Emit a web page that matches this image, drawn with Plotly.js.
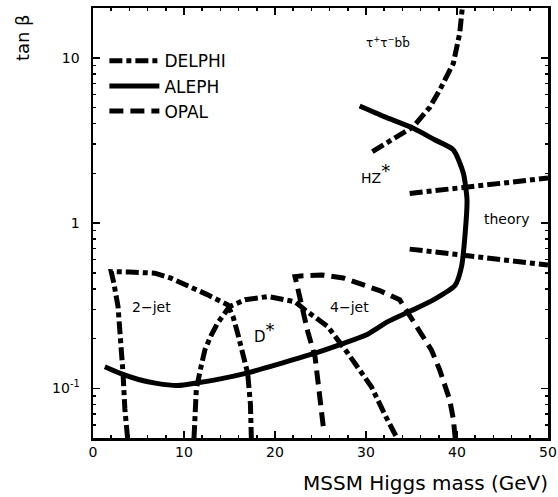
<!DOCTYPE html>
<html>
<head>
<meta charset="utf-8">
<script src="https://cdn.plot.ly/plotly-3.0.1.min.js"></script>
<style>html,body{margin:0;padding:0;background:#fff;}#chart{width:558px;height:497px;}</style>
</head>
<body>
<div id="chart"></div>
<script>
// ---- data (x: MSSM Higgs mass in GeV, y: tan beta) ----
const alephX = [1.3, 3, 5, 7, 9.3, 11.5, 14, 17, 20, 24.4, 27.3, 30, 32.4, 35, 37.5, 39.8, 40.5, 40.9, 41.1, 40.7, 39.6, 37.5, 35.2, 32, 29.3];
const alephY = [0.135, 0.123, 0.113, 0.107, 0.104, 0.108, 0.114, 0.124, 0.138, 0.163, 0.185, 0.21, 0.253, 0.295, 0.345, 0.42, 0.545, 0.87, 1.38, 2.0, 2.77, 3.2, 3.74, 4.4, 5.1];

const delphi2jetX = [3.8, 3.5, 3.3, 3.0, 2.75, 2.3, 2.0, 4, 6.8, 8.5, 10.4, 12.5, 14.8, 15.4, 15.9, 16.5, 17.0, 17.3, 17.4];
const delphi2jetY = [0.05, 0.075, 0.123, 0.2, 0.312, 0.43, 0.508, 0.505, 0.497, 0.465, 0.42, 0.37, 0.32, 0.27, 0.215, 0.16, 0.123, 0.08, 0.05];

const delphiDstarX = [11.1, 11.2, 11.35, 11.8, 12.3, 13.0, 13.7, 15.0, 16.7, 19.2, 22.2, 23.3, 25.8, 28.0, 30.6, 32.2, 33.4];
const delphiDstarY = [0.05, 0.07, 0.098, 0.13, 0.171, 0.21, 0.248, 0.312, 0.343, 0.359, 0.334, 0.298, 0.236, 0.163, 0.102, 0.067, 0.05];

const delphiTauX = [30.7, 33, 35.2, 37, 38.1, 39.6, 40.3, 40.6];
const delphiTauY = [2.7, 3.2, 3.83, 5.0, 6.38, 9.25, 14.1, 20.5];

const theoryUpX = [34.8, 50];
const theoryUpY = [1.51, 1.87];
const theoryLoX = [34.8, 50];
const theoryLoY = [0.695, 0.557];

const opalX = [25.3, 24.9, 24.4, 23.6, 22.9, 22.2, 23.1, 25.1, 27.5, 29.3, 31.5, 33.7, 35.9, 37.2, 38.1, 39.2, 39.6, 39.8];
const opalY = [0.059, 0.09, 0.155, 0.22, 0.312, 0.474, 0.48, 0.485, 0.465, 0.432, 0.39, 0.343, 0.225, 0.17, 0.129, 0.085, 0.065, 0.05];

const labelTexts = ["τ<sup>+</sup>τ<sup>−</sup>bb̄", "HZ<sup><span style=\"font-size:18px\">*</span></sup>", "theory", "2−jet", "D<sup><span style=\"font-size:18px\">*</span></sup>", "4−jet"];
const labelX = [32.4, 31.0, 45.5, 6.4, 18.9, 28.2];
const labelY = [12.4, 2.0, 1.06, 0.31, 0.216, 0.31];

const xTicks = [0, 10, 20, 30, 40, 50];
const yTicks = [0.1, 1, 10];
const yTickText = ["10<sup>-1</sup>", "1", "10"];
const yMinor = [0.05,0.06,0.07,0.08,0.09,0.2,0.3,0.4,0.5,0.6,0.7,0.8,0.9,2,3,4,5,6,7,8,9,20];

// ---- styles (kept apart from the data) ----
const labelSizes = [12, 14, 14, 14, 15, 14];

// ---- build traces ----
function joinCurves(list) {
  const x = [], y = [];
  list.forEach((c, i) => {
    if (i > 0) { x.push(null); y.push(null); }
    x.push(...c[0]); y.push(...c[1]);
  });
  return {x, y};
}
const delphi = joinCurves([[delphi2jetX, delphi2jetY],[delphiDstarX, delphiDstarY],[delphiTauX, delphiTauY],[theoryUpX, theoryUpY],[theoryLoX, theoryLoY]]);

const font = "DejaVu Sans, sans-serif";
const traces = [
  {x: delphi.x, y: delphi.y, name: "DELPHI", mode: "lines", connectgaps: false,
   line: {color: "#000", width: 5, dash: "13px,4px,5px,4px"}},
  {x: alephX, y: alephY, name: "ALEPH", mode: "lines", line: {color: "#000", width: 5, shape: "spline", smoothing: 0.6}},
  {x: opalX, y: opalY, name: "OPAL", mode: "lines", line: {color: "#000", width: 5, dash: "14px,7px"}}
];

const annotations = labelTexts.map((t, i) => ({
  x: labelX[i], y: Math.log10(labelY[i]), xref: "x", yref: "y", text: t, showarrow: false,
  font: {family: font, size: labelSizes[i], color: "#000"}
}));
annotations.push({x: 1.005, y: -0.105, xref: "paper", yref: "paper", xanchor: "right", yanchor: "middle",
  text: "MSSM Higgs mass (GeV)", showarrow: false, font: {family: font, size: 20, color: "#000"}});
annotations.push({x: -0.156, y: 0.93, xref: "paper", yref: "paper", xanchor: "center", yanchor: "middle",
  text: "tan β", textangle: -90, showarrow: false, font: {family: font, size: 18, color: "#000"}});

const layout = {
  width: 558, height: 497,
  margin: {l: 93, r: 10, t: 8, b: 59},
  paper_bgcolor: "#fff", plot_bgcolor: "#fff",
  showlegend: true,
  legend: {x: 0.025, y: 0.918, xanchor: "left", yanchor: "top", bgcolor: "rgba(0,0,0,0)",
    itemwidth: 50, font: {family: font, size: 17, color: "#000"}, traceorder: "normal"},
  xaxis: {range: [0, 50], tickvals: xTicks, ticks: "inside", ticklen: 7, tickwidth: 1.5, tickcolor: "#000",
    showline: true, mirror: "ticks", linewidth: 2.5, linecolor: "#000", showgrid: false, zeroline: false,
    tickfont: {family: font, size: 14, color: "#000"},
    minor: {dtick: 2, ticks: "inside", ticklen: 3, tickcolor: "#000", showgrid: false}},
  yaxis: {type: "log", range: [Math.log10(0.05), Math.log10(20)], tickvals: yTicks, ticktext: yTickText,
    ticks: "inside", ticklen: 7, tickwidth: 1.5, tickcolor: "#000",
    showline: true, mirror: "ticks", linewidth: 2.5, linecolor: "#000", showgrid: false, zeroline: false,
    tickfont: {family: font, size: 14, color: "#000"}, ticklabelstandoff: 8,
    minor: {tickvals: yMinor, ticks: "inside", ticklen: 3, tickcolor: "#000", showgrid: false}},
  annotations: annotations
};

Plotly.newPlot("chart", traces, layout, {displayModeBar: false, staticPlot: true});
</script>
</body>
</html>
